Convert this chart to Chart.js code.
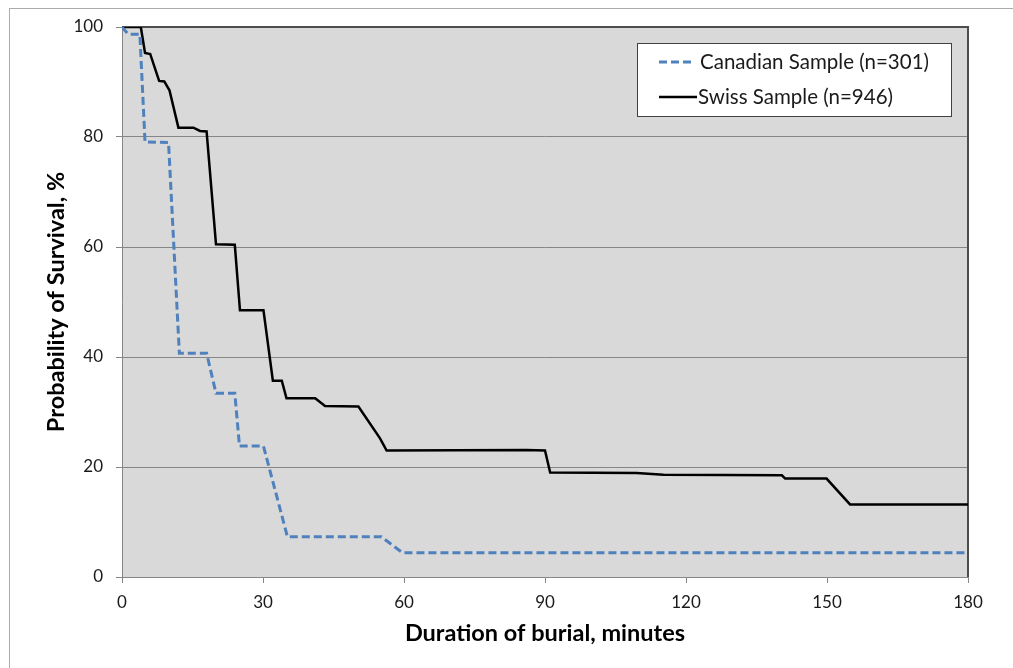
<!DOCTYPE html>
<html>
<head>
<meta charset="utf-8">
<script src="https://cdn.jsdelivr.net/npm/chart.js@4/dist/chart.umd.min.js"></script>
<style>
  body { margin: 0; background: #fff; }
  canvas { display: block; }
</style>
</head>
<body>
<canvas id="chart" width="1013" height="668"></canvas>
<script>
// Kaplan-Meier style survival curves
const canadianMinutes  = [0, 1.3, 3.8, 4.9, 9.9, 12.2, 18, 20, 24, 25, 30.1, 35.2, 55.2, 59.7, 180];
const canadianSurvival = [100, 98.7, 98.7, 79.1, 79, 40.7, 40.7, 33.4, 33.4, 23.8, 23.8, 7.3, 7.3, 4.4, 4.4];

const swissMinutes  = [0, 4, 4.9, 6, 7.9, 9, 10.1, 12, 15.2, 16.6, 18, 20, 24, 25.1, 30.1, 32.1, 34, 35, 41.1, 43.2, 50.3, 54.9, 56.3, 86, 90, 91.1, 109.5, 115.2, 140.4, 141.1, 149.9, 154.9, 180];
const swissSurvival = [100, 100, 95.3, 95.1, 90.2, 90.1, 88.5, 81.7, 81.7, 81.1, 81, 60.5, 60.4, 48.5, 48.5, 35.7, 35.7, 32.5, 32.5, 31.1, 31, 25.2, 23, 23.1, 23, 19, 18.9, 18.6, 18.5, 17.9, 17.9, 13.2, 13.2];

const seriesLabels = ["Canadian Sample (n=301)", "Swiss Sample (n=946)"];
const xTicks = [0, 30, 60, 90, 120, 150, 180];
const yTicks = [0, 20, 40, 60, 80, 100];

const FONT = "Lato, 'Liberation Sans', sans-serif";

function toPoints(xs, ys) {
    return xs.map((x, i) => ({ x: x, y: ys[i] }));
}

// grey plot background, outer frame and the darker top/right plot border
const framePlugin = {
    id: "frame",
    beforeDraw(chart) {
        const ctx = chart.ctx;
        const a = chart.chartArea;
        ctx.save();
        ctx.fillStyle = "#fff";
        ctx.fillRect(0, 0, chart.width, chart.height);
        ctx.strokeStyle = "#ababab";
        ctx.lineWidth = 1;
        ctx.strokeRect(9.5, 8.5, chart.width + 20, chart.height + 20);
        ctx.fillStyle = "#d9d9d9";
        ctx.fillRect(a.left, a.top, a.right - a.left, a.bottom - a.top);
        ctx.restore();
    },
    beforeDatasetsDraw(chart) {
        const ctx = chart.ctx;
        const a = chart.chartArea;
        ctx.save();
        ctx.strokeStyle = "#4d4d4d";
        ctx.lineWidth = 2;
        ctx.beginPath();
        ctx.moveTo(a.left, a.top);
        ctx.lineTo(a.right, a.top);
        ctx.lineTo(a.right, a.bottom);
        ctx.stroke();
        ctx.restore();
    }
};

// boxed legend sitting inside the plot, top right
const boxLegend = {
    id: "boxLegend",
    afterDraw(chart) {
        const ctx = chart.ctx;
        const x = 637, y = 43, w = 314, h = 73;
        ctx.save();
        ctx.fillStyle = "#fff";
        ctx.fillRect(x, y, w, h);
        ctx.strokeStyle = "#404040";
        ctx.lineWidth = 1;
        ctx.strokeRect(x + 0.5, y + 0.5, w, h);
        ctx.font = "20.5px " + FONT;
        ctx.textBaseline = "middle";
        chart.data.datasets.forEach((ds, i) => {
            const ly = i === 0 ? 62 : 97;
            ctx.strokeStyle = ds.borderColor;
            ctx.lineWidth = ds.borderWidth;
            ctx.setLineDash(ds.borderDash || []);
            ctx.beginPath();
            ctx.moveTo(659, ly);
            ctx.lineTo(i === 0 ? 693 : 697, ly);
            ctx.stroke();
            ctx.setLineDash([]);
            ctx.fillStyle = "#1a1a1a";
            ctx.fillText(ds.label, i === 0 ? 700 : 698, ly);
        });
        ctx.restore();
    }
};

new Chart(document.getElementById("chart"), {
    type: "line",
    data: {
        datasets: [
            {
                label: seriesLabels[0],
                data: toPoints(canadianMinutes, canadianSurvival),
                borderColor: "#4f81bd",
                borderWidth: 3,
                borderDash: [8, 4],
                pointRadius: 0,
                tension: 0,
                fill: false
            },
            {
                label: seriesLabels[1],
                data: toPoints(swissMinutes, swissSurvival),
                borderColor: "#000",
                borderWidth: 2.5,
                pointRadius: 0,
                tension: 0,
                fill: false
            }
        ]
    },
    options: {
        responsive: false,
        animation: false,
        layout: { padding: { top: 27, right: 45, left: 0, bottom: 0 } },
        plugins: {
            legend: { display: false },
            tooltip: { enabled: false }
        },
        scales: {
            x: {
                type: "linear",
                min: 0,
                max: 180,
                afterBuildTicks: s => { s.ticks = xTicks.map(v => ({ value: v })); },
                afterFit: s => { s.height = 91; },
                grid: { drawOnChartArea: false, drawTicks: true, tickLength: 6, color: "#868686" },
                border: { color: "#868686", width: 1 },
                ticks: { color: "#1a1a1a", font: { size: 17, family: FONT }, padding: 9, maxRotation: 0 },
                title: {
                    display: true,
                    text: "Duration of burial, minutes",
                    color: "#000",
                    font: { size: 23.5, weight: "bold", family: FONT },
                    padding: { bottom: 20 }
                }
            },
            y: {
                min: 0,
                max: 100,
                afterBuildTicks: s => { s.ticks = yTicks.map(v => ({ value: v })); },
                afterFit: s => { s.width = 122; },
                grid: {
                    color: c => (c.tick && c.tick.value === 100 ? "rgba(0,0,0,0)" : "#868686"),
                    tickColor: "#868686",
                    tickLength: 6
                },
                border: { color: "#868686", width: 1 },
                ticks: { color: "#1a1a1a", font: { size: 17, family: FONT }, padding: 13 },
                title: {
                    display: true,
                    text: "Probability of Survival, %",
                    color: "#000",
                    font: { size: 23.5, weight: "bold", family: FONT },
                    padding: { top: 42 }
                }
            }
        }
    },
    plugins: [framePlugin, boxLegend]
});
</script>
</body>
</html>
